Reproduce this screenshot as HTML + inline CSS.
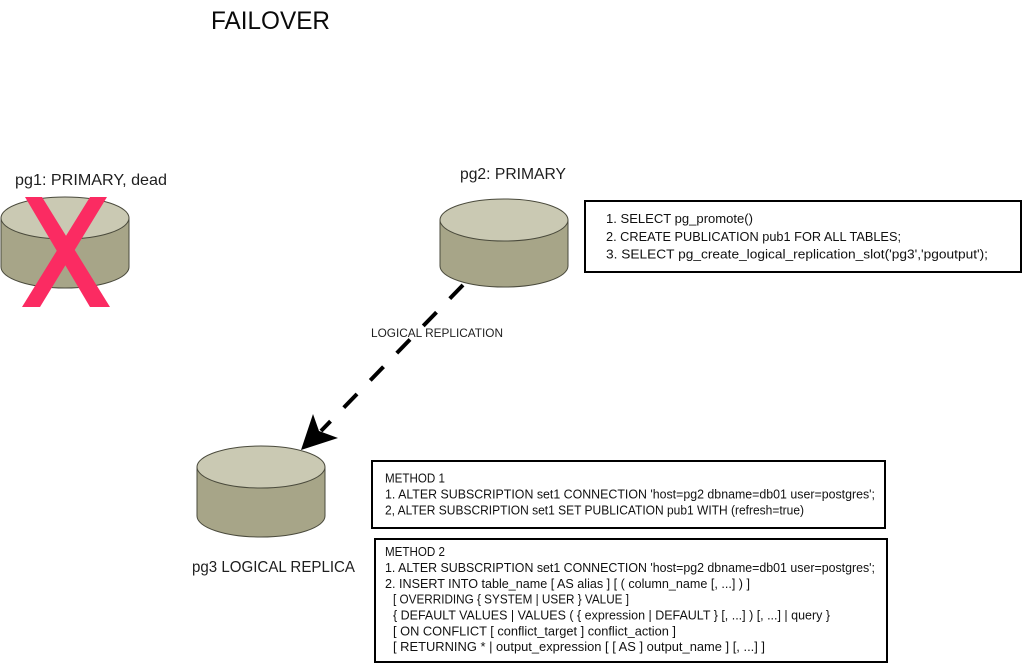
<!DOCTYPE html>
<html>
<head>
<meta charset="utf-8">
<style>
  html, body { margin: 0; padding: 0; background: #ffffff; }
  body { width: 1024px; height: 669px; overflow: hidden; }
  svg { display: block; }
  .lbl { font-family: "Liberation Sans", sans-serif; fill: #1e1e1e; }
  .box { font-family: "Liberation Sans", sans-serif; fill: #111111; font-size: 12.8px; }
</style>
</head>
<body>
<svg width="1024" height="669" viewBox="0 0 1024 669" xmlns="http://www.w3.org/2000/svg">
  <rect x="0" y="0" width="1024" height="669" fill="#ffffff"/>

  <!-- Title -->
  <text x="211" y="29" font-size="25" fill="#0a0a0a" font-family="Liberation Sans, sans-serif" textLength="119" lengthAdjust="spacingAndGlyphs">FAILOVER</text>

  <!-- Labels -->
  <text class="lbl" x="15" y="185" font-size="16" textLength="152" lengthAdjust="spacingAndGlyphs">pg1: PRIMARY, dead</text>
  <text class="lbl" x="460" y="179" font-size="16" textLength="106" lengthAdjust="spacingAndGlyphs">pg2: PRIMARY</text>
  <text class="lbl" x="192" y="572" font-size="16" textLength="163" lengthAdjust="spacingAndGlyphs">pg3 LOGICAL REPLICA</text>

  <!-- Dashed connector -->
  <line x1="463" y1="285" x2="321" y2="431" stroke="#000" stroke-width="4" stroke-dasharray="19 19"/>
  <polygon points="301,450 313,414 319,431 338,438" fill="#000"/>
  <text class="lbl" x="371" y="337" font-size="12" textLength="132" lengthAdjust="spacingAndGlyphs">LOGICAL REPLICATION</text>

  <!-- pg1 cylinder -->
  <path d="M1,218 L1,267 A64,21 0 0 0 129,267 L129,218 Z" fill="#a7a588" stroke="#4a4a3c" stroke-width="1"/>
  <ellipse cx="65" cy="218" rx="64" ry="21" fill="#cac9b3" stroke="#4a4a3c" stroke-width="1"/>
  <!-- red X -->
  <polygon points="25,197 42,197 110,307 90,307" fill="#fb2b62"/>
  <polygon points="90,197 107,197 40,307 22,307" fill="#fb2b62"/>

  <!-- pg2 cylinder -->
  <path d="M440,220 L440,266 A64,21 0 0 0 568,266 L568,220 Z" fill="#a7a588" stroke="#4a4a3c" stroke-width="1"/>
  <ellipse cx="504" cy="220" rx="64" ry="21" fill="#cac9b3" stroke="#4a4a3c" stroke-width="1"/>

  <!-- pg3 cylinder -->
  <path d="M197,467 L197,516 A64,21 0 0 0 325,516 L325,467 Z" fill="#a7a588" stroke="#4a4a3c" stroke-width="1"/>
  <ellipse cx="261" cy="467" rx="64" ry="21" fill="#cac9b3" stroke="#4a4a3c" stroke-width="1"/>

  <!-- Box 1 -->
  <rect x="585" y="201" width="436" height="71" fill="#fff" stroke="#000" stroke-width="2"/>
  <text class="box" x="606" y="223" textLength="147" lengthAdjust="spacingAndGlyphs">1. SELECT pg_promote()</text>
  <text class="box" x="606" y="241" textLength="295" lengthAdjust="spacingAndGlyphs">2. CREATE PUBLICATION pub1 FOR ALL TABLES;</text>
  <text class="box" x="606" y="258.5" textLength="382" lengthAdjust="spacingAndGlyphs">3. SELECT pg_create_logical_replication_slot('pg3','pgoutput');</text>

  <!-- Box 2 -->
  <rect x="372" y="461" width="513" height="67" fill="#fff" stroke="#000" stroke-width="2"/>
  <text class="box" x="385" y="482.5" textLength="60" lengthAdjust="spacingAndGlyphs">METHOD 1</text>
  <text class="box" x="385" y="498.5" textLength="490" lengthAdjust="spacingAndGlyphs">1. ALTER SUBSCRIPTION set1 CONNECTION 'host=pg2 dbname=db01 user=postgres';</text>
  <text class="box" x="385" y="514.5" textLength="419" lengthAdjust="spacingAndGlyphs">2, ALTER SUBSCRIPTION set1 SET PUBLICATION pub1 WITH (refresh=true)</text>

  <!-- Box 3 -->
  <rect x="375" y="539" width="512" height="123" fill="#fff" stroke="#000" stroke-width="2"/>
  <text class="box" x="385" y="556" textLength="60" lengthAdjust="spacingAndGlyphs">METHOD 2</text>
  <text class="box" x="385" y="572" textLength="490" lengthAdjust="spacingAndGlyphs">1. ALTER SUBSCRIPTION set1 CONNECTION 'host=pg2 dbname=db01 user=postgres';</text>
  <text class="box" x="385" y="588" textLength="365" lengthAdjust="spacingAndGlyphs">2. INSERT INTO table_name [ AS alias ] [ ( column_name [, ...] ) ]</text>
  <text class="box" x="393" y="603.5" textLength="236" lengthAdjust="spacingAndGlyphs">[ OVERRIDING { SYSTEM | USER } VALUE ]</text>
  <text class="box" x="393" y="619.5" textLength="437" lengthAdjust="spacingAndGlyphs">{ DEFAULT VALUES | VALUES ( { expression | DEFAULT } [, ...] ) [, ...] | query }</text>
  <text class="box" x="393" y="635.5" textLength="283" lengthAdjust="spacingAndGlyphs">[ ON CONFLICT [ conflict_target ] conflict_action ]</text>
  <text class="box" x="393" y="651" textLength="372" lengthAdjust="spacingAndGlyphs">[ RETURNING * | output_expression [ [ AS ] output_name ] [, ...] ]</text>
</svg>
</body>
</html>
